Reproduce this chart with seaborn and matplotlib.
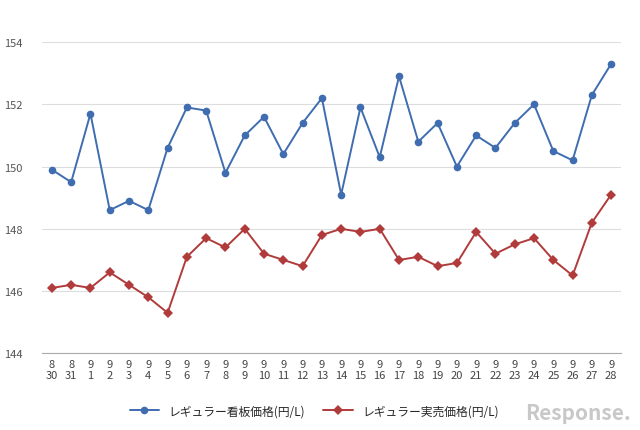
import numpy as np
import pandas as pd
import seaborn as sns
import matplotlib
matplotlib.use("Agg")
import matplotlib.pyplot as plt

months = ["8", "8"] + ["9"] * 28
days = ["30", "31"] + [str(d) for d in range(1, 29)]
kanban = [149.9, 149.5, 151.7, 148.6, 148.9, 148.6, 150.6, 151.9, 151.8, 149.8,
          151.0, 151.6, 150.4, 151.4, 152.2, 149.1, 151.9, 150.3, 152.9, 150.8,
          151.4, 150.0, 151.0, 150.6, 151.4, 152.0, 150.5, 150.2, 152.3, 153.3]
jitsubai = [146.1, 146.2, 146.1, 146.6, 146.2, 145.8, 145.3, 147.1, 147.7, 147.4,
            148.0, 147.2, 147.0, 146.8, 147.8, 148.0, 147.9, 148.0, 147.0, 147.1,
            146.8, 146.9, 147.9, 147.2, 147.5, 147.7, 147.0, 146.5, 148.2, 149.1]
name_k = "レギュラー看板価格(円/L)"
name_j = "レギュラー実売価格(円/L)"

idx = np.arange(len(days))
df = pd.DataFrame({"x": np.concatenate([idx, idx]),
                   "price": kanban + jitsubai,
                   "series": [name_k] * len(idx) + [name_j] * len(idx)})

sns.set_style("white")
plt.rcParams["font.family"] = "Noto Sans CJK JP"
fig = plt.figure(figsize=(6.4, 4.31), dpi=100)
ax = fig.add_axes([0.066, 0.178, 0.904, 0.722])
sns.lineplot(data=df, x="x", y="price", hue="series", style="series",
             palette=["#3f6db0", "#b13b3b"], markers=["o", "D"], dashes=False,
             markersize=5.5, markeredgewidth=0, linewidth=1.4, ax=ax)

ax.set_xlim(-0.5, len(idx) - 0.5)
ax.set_ylim(144, 154)
ax.set_yticks(range(144, 155, 2))
ax.yaxis.grid(True, color="#dddddd", linewidth=0.8)
ax.tick_params(axis="y", labelsize=8, colors="#555555", length=0, pad=14)
ax.set_xticks(idx)
ax.set_xticklabels([m + "\n" + d for m, d in zip(months, days)], fontsize=8, color="#444444")
ax.tick_params(axis="x", length=0, pad=4)
ax.set_xticks(np.arange(-0.5, len(idx), 1), minor=True)
ax.tick_params(axis="x", which="minor", length=5, color="#aaaaaa")
for s in ["top", "right", "left"]:
    ax.spines[s].set_visible(False)
ax.spines["bottom"].set_color("#aaaaaa")
ax.set_xlabel("")
ax.set_ylabel("")
ax.legend(loc="upper center", bbox_to_anchor=(0.47, -0.13), ncol=2, frameon=False,
          fontsize=8.5, handlelength=2.5, columnspacing=1.5)
fig.text(0.985, 0.025, "Response.", fontsize=15, color="#c8c8c8", style="italic",
         ha="right", fontweight="bold")
fig.savefig("out.png", dpi=100)
